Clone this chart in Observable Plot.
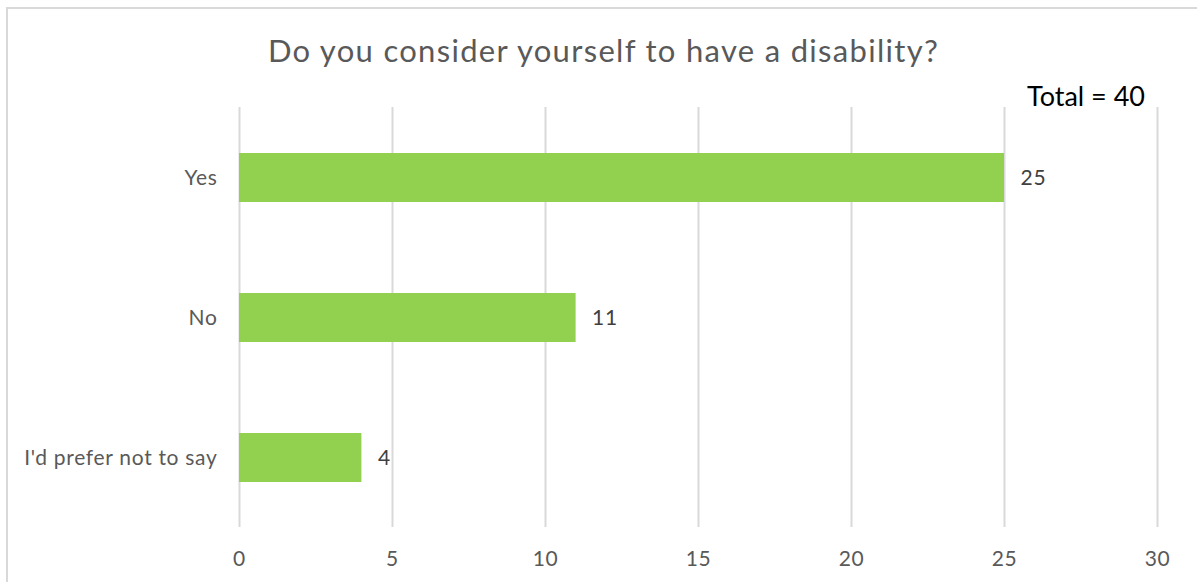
<!DOCTYPE html>
<html>
<head>
<meta charset="utf-8">
<script src="https://cdn.jsdelivr.net/npm/d3@7"></script>
<script src="https://cdn.jsdelivr.net/npm/@observablehq/plot@0.6"></script>
<style>
  html, body { margin: 0; padding: 0; background: #fff; }
  body { width: 1197px; height: 582px; overflow: hidden; position: relative; font-family: Lato, "Open Sans", sans-serif; }
  #frame { position: absolute; left: 6px; top: 7px; width: 1300px; height: 700px; border: 2px solid #d9d9d9; box-sizing: border-box; }
  #title { position: absolute; left: 0; top: 0; width: 1207px; height: 90px; text-align: center; font-size: 31px; line-height: 31px; color: #595959; padding-top: 35px; box-sizing: border-box; letter-spacing: 1.3px; white-space: nowrap; }
  #total { position: absolute; left: 1027px; top: 82px; font-size: 27px; line-height: 27px; color: #000; white-space: nowrap; }
  #chart { position: absolute; left: 0; top: 90px; }
</style>
</head>
<body>
<div id="frame"></div>
<div id="title">Do you consider yourself to have a disability?</div>
<div id="total">Total = 40</div>
<div id="chart"></div>
<script>
const categories = ["Yes", "No", "I'd prefer not to say"];
const counts = [25, 11, 4];
const xTicks = [0, 5, 10, 15, 20, 25, 30];

const data = categories.map((c, i) => ({category: c, count: counts[i]}));

const chart = Plot.plot({
  width: 1197,
  height: 492,
  marginLeft: 239,
  marginRight: 40,
  marginTop: 17,
  marginBottom: 55,
  style: {fontFamily: "Lato, 'Open Sans', sans-serif", background: "transparent", overflow: "visible", letterSpacing: "0.7px"},
  x: {domain: [0, 30], ticks: xTicks, label: null},
  y: {domain: categories, paddingInner: 0.65, paddingOuter: 0.325, label: null},
  marks: [
    Plot.ruleX(xTicks, {stroke: "#d9d9d9", strokeWidth: 2}),
    Plot.barX(data, {x: "count", y: "category", fill: "#92d050"}),
    Plot.text(data, {x: "count", y: "category", text: d => String(d.count), textAnchor: "start", dx: 16, fill: "#404040", fontSize: 21}),
    Plot.axisX({ticks: xTicks, tickSize: 0, tickPadding: 24, fontSize: 21, color: "#595959", label: null}),
    Plot.axisY({tickSize: 0, tickPadding: 22, fontSize: 21, color: "#595959", label: null})
  ]
});
document.getElementById("chart").appendChild(chart);
</script>
</body>
</html>
